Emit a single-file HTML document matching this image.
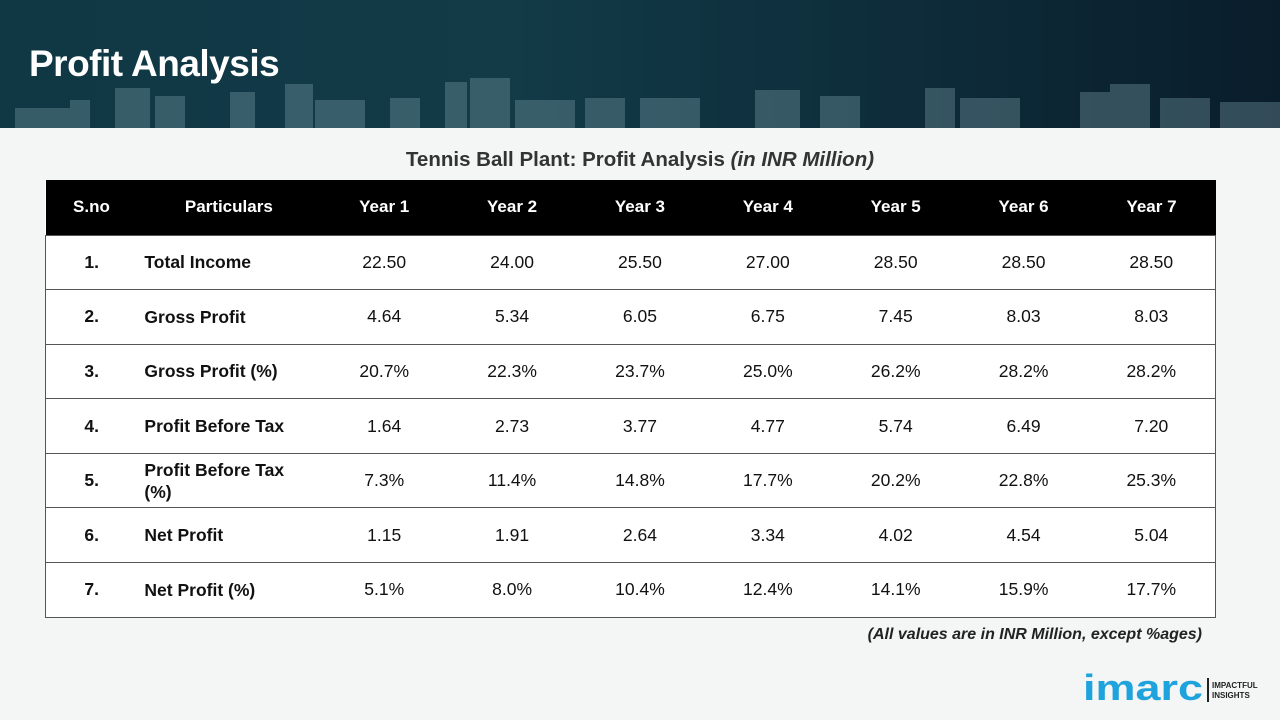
<!DOCTYPE html>
<html><head><meta charset="utf-8"><style>
*{margin:0;padding:0;box-sizing:border-box}
body{width:1280px;height:720px;overflow:hidden;background:#f4f5f5;font-family:"Liberation Sans",sans-serif;position:relative}
#banner{position:absolute;left:0;top:0;width:1280px;height:128px;background:linear-gradient(90deg,#0f3744 0%,#123a47 40%,#0d2a38 75%,#0a1d2b 100%);overflow:hidden}
#banner h1{position:absolute;left:29px;top:43px;color:#fff;font-size:37px;font-weight:bold;letter-spacing:-0.5px}
#city{position:absolute;left:0;bottom:0}
#title{position:absolute;left:0;width:1280px;top:148px;text-align:center;font-size:20.5px;font-weight:bold;color:#333}
table{position:absolute;left:45px;top:180px;width:1171px;border-collapse:collapse;background:#fff}
th{background:#000;color:#fff;height:55px;font-size:17px;font-weight:bold}
td{height:54.6px;border:1px solid #555;border-left:none;border-right:none;font-size:17.5px;color:#111;text-align:center}
tr td:first-child{border-left:1px solid #555;font-weight:bold}
tr td:last-child{border-right:1px solid #555}
td.p{text-align:left;padding-left:7px;font-weight:bold;line-height:22px}
#note{position:absolute;right:78px;top:626px;font-size:16px;font-style:italic;font-weight:bold;color:#222}
#logo{position:absolute;left:1083px;top:670px}
</style></head><body>
<div id="banner">
<svg id="city" width="1280" height="50">
<g fill="#7fa3ad" opacity="0.35">
<rect x="15" y="30" width="60" height="20"/><rect x="70" y="22" width="20" height="28"/><rect x="115" y="10" width="35" height="40"/><rect x="155" y="18" width="30" height="32"/><rect x="230" y="14" width="25" height="36"/><rect x="285" y="6" width="28" height="44"/><rect x="315" y="22" width="50" height="28"/><rect x="390" y="20" width="30" height="30"/><rect x="445" y="4" width="22" height="46"/><rect x="470" y="-2" width="40" height="52"/><rect x="515" y="22" width="60" height="28"/><rect x="585" y="20" width="40" height="30"/><rect x="640" y="20" width="60" height="30"/><rect x="755" y="12" width="45" height="38"/><rect x="820" y="18" width="40" height="32"/><rect x="925" y="10" width="30" height="40"/><rect x="960" y="20" width="60" height="30"/><rect x="1080" y="14" width="30" height="36"/><rect x="1110" y="6" width="40" height="44"/><rect x="1160" y="20" width="50" height="30"/><rect x="1220" y="24" width="60" height="26"/>
</g></svg>
<h1>Profit Analysis</h1>
</div>
<div id="title">Tennis Ball Plant: Profit Analysis <i>(in INR Million)</i></div>
<table>
<colgroup><col style="width:92px"><col style="width:183px"><col span="7" style="width:128px"></colgroup>
<tr><th>S.no</th><th>Particulars</th><th>Year 1</th><th>Year 2</th><th>Year 3</th><th>Year 4</th><th>Year 5</th><th>Year 6</th><th>Year 7</th></tr>
<tr><td>1.</td><td class="p">Total Income</td><td>22.50</td><td>24.00</td><td>25.50</td><td>27.00</td><td>28.50</td><td>28.50</td><td>28.50</td></tr>
<tr><td>2.</td><td class="p">Gross Profit</td><td>4.64</td><td>5.34</td><td>6.05</td><td>6.75</td><td>7.45</td><td>8.03</td><td>8.03</td></tr>
<tr><td>3.</td><td class="p">Gross Profit (%)</td><td>20.7%</td><td>22.3%</td><td>23.7%</td><td>25.0%</td><td>26.2%</td><td>28.2%</td><td>28.2%</td></tr>
<tr><td>4.</td><td class="p">Profit Before Tax</td><td>1.64</td><td>2.73</td><td>3.77</td><td>4.77</td><td>5.74</td><td>6.49</td><td>7.20</td></tr>
<tr><td>5.</td><td class="p">Profit Before Tax<br>(%)</td><td>7.3%</td><td>11.4%</td><td>14.8%</td><td>17.7%</td><td>20.2%</td><td>22.8%</td><td>25.3%</td></tr>
<tr><td>6.</td><td class="p">Net Profit</td><td>1.15</td><td>1.91</td><td>2.64</td><td>3.34</td><td>4.02</td><td>4.54</td><td>5.04</td></tr>
<tr><td>7.</td><td class="p">Net Profit (%)</td><td>5.1%</td><td>8.0%</td><td>10.4%</td><td>12.4%</td><td>14.1%</td><td>15.9%</td><td>17.7%</td></tr>
</table>
<div id="note">(All values are in INR Million, except %ages)</div>
<svg id="logo" width="180" height="36">
<text x="0" y="30" font-family="Liberation Sans,sans-serif" font-weight="bold" font-size="36" fill="#1fa3dc" textLength="120" lengthAdjust="spacingAndGlyphs">imarc</text>
<rect x="124" y="8" width="2" height="24" fill="#222"/>
<text x="129" y="18" font-family="Liberation Sans,sans-serif" font-weight="bold" font-size="8" fill="#222">IMPACTFUL</text>
<text x="129" y="28" font-family="Liberation Sans,sans-serif" font-weight="bold" font-size="8" fill="#222">INSIGHTS</text>
</svg>
</body></html>
